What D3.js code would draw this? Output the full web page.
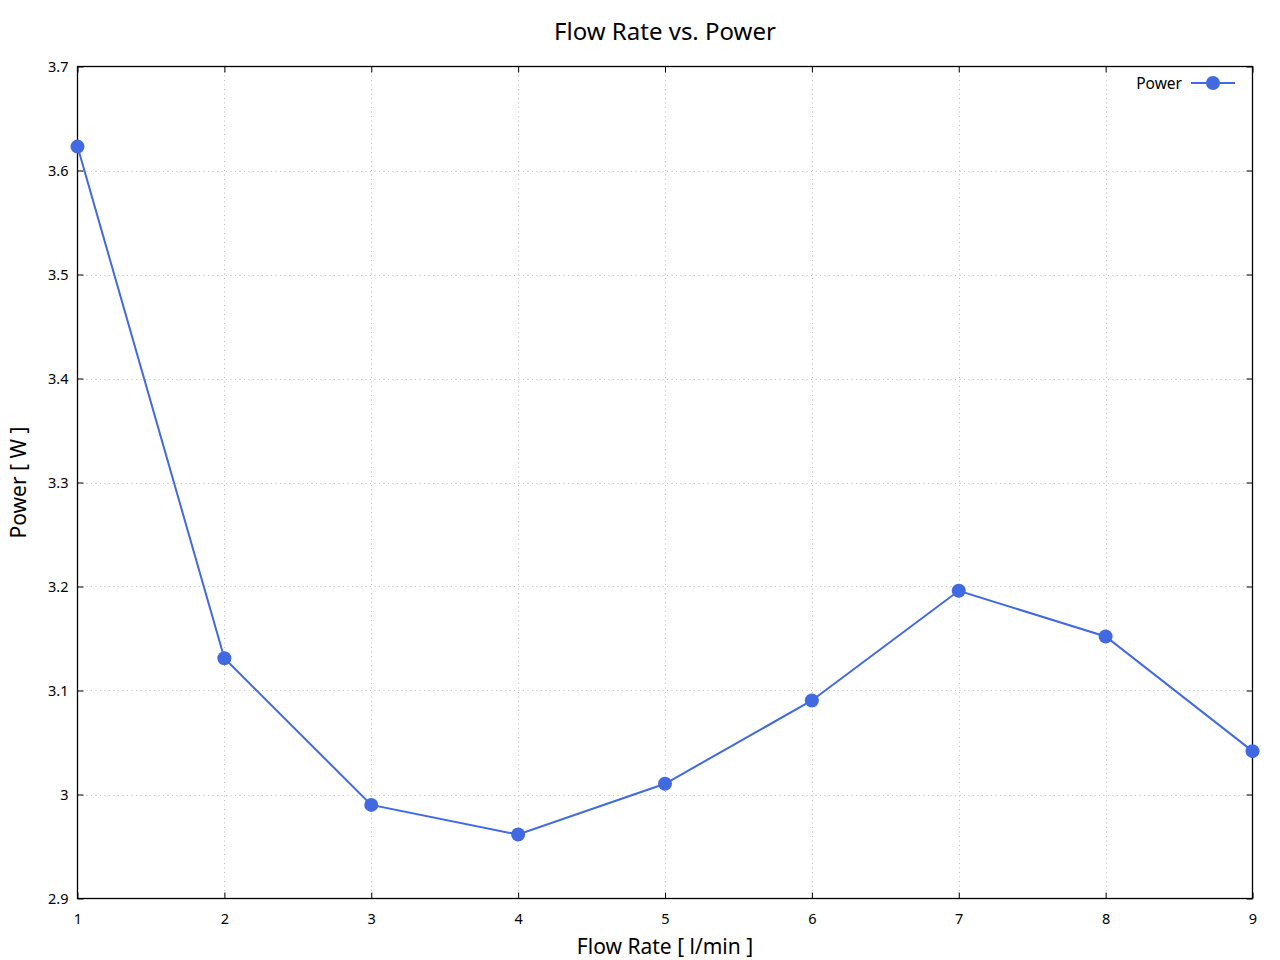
<!DOCTYPE html>
<html>
<head>
<meta charset="utf-8">
<script src="https://cdn.jsdelivr.net/npm/d3@7"></script>
<style>
  html, body { margin: 0; padding: 0; background: #fff; }
  text { font-family: "Noto Sans", "DejaVu Sans", sans-serif; fill: #000; }
</style>
</head>
<body>
<svg id="chart" width="1280" height="960"></svg>
<script>
const flowRates = [1, 2, 3, 4, 5, 6, 7, 8, 9];
const powerValues = [3.623, 3.131, 2.990, 2.9615, 3.0103, 3.0904, 3.1959, 3.1519, 3.0417];
const xTicks = [1, 2, 3, 4, 5, 6, 7, 8, 9];
const yTicks = [2.9, 3.0, 3.1, 3.2, 3.3, 3.4, 3.5, 3.6, 3.7];
const seriesName = "Power";
const titleText = "Flow Rate vs. Power";
const xLabelText = "Flow Rate [ l/min ]";
const yLabelText = "Power [ W ]";

const color = "#4169e1";
const L = 77.5, R = 1252.5, T = 66.5, B = 898.5;

const svg = d3.select("#chart");
const x = d3.scaleLinear().domain([1, 9]).range([L, R]);
const y = d3.scaleLinear().domain([2.9, 3.7]).range([B, T]);

// grid
const grid = svg.append("g");
grid.selectAll(".gx").data(xTicks.slice(1, -1)).enter().append("line")
  .attr("x1", d => Math.round(x(d)) + 0.5).attr("x2", d => Math.round(x(d)) + 0.5)
  .attr("y1", T).attr("y2", B)
  .attr("stroke", "#c0c0c0").attr("stroke-width", 1).attr("stroke-dasharray", "1,3.5");
grid.selectAll(".gy").data(yTicks.slice(1, -1)).enter().append("line")
  .attr("y1", d => Math.round(y(d)) + 0.5).attr("y2", d => Math.round(y(d)) + 0.5)
  .attr("x1", L).attr("x2", R)
  .attr("stroke", "#c0c0c0").attr("stroke-width", 1).attr("stroke-dasharray", "1,3.5");

// axes with inward ticks (mirrored)
const fmt = d => d3.format("~g")(+d.toFixed(2));
const axB = d3.axisBottom(x).tickValues(xTicks).tickSizeInner(-6).tickSizeOuter(0).tickPadding(15).tickFormat(fmt);
const axT = d3.axisTop(x).tickValues(xTicks).tickSizeInner(-6).tickSizeOuter(0).tickFormat("");
const axLft = d3.axisLeft(y).tickValues(yTicks).tickSizeInner(-6).tickSizeOuter(0).tickPadding(9).tickFormat(fmt);
const axRt = d3.axisRight(y).tickValues(yTicks).tickSizeInner(-6).tickSizeOuter(0).tickFormat("");

function styleAxis(g) {
  g.select(".domain").remove();
  g.selectAll(".tick line").attr("stroke", "#000");
  g.selectAll(".tick text").style("font-size", "14.5px").attr("fill", "#000");
}
svg.append("g").attr("transform", `translate(0,${B})`).call(axB).call(styleAxis);
svg.append("g").attr("transform", `translate(0,${T})`).call(axT).call(styleAxis);
svg.append("g").attr("transform", `translate(${L},0)`).call(axLft).call(styleAxis);
svg.append("g").attr("transform", `translate(${R},0)`).call(axRt).call(styleAxis);

// frame
svg.append("rect").attr("x", L).attr("y", T).attr("width", R - L).attr("height", B - T)
  .attr("fill", "none").attr("stroke", "#000").attr("stroke-width", 1.3);

// line
const line = d3.line().x((d, i) => x(flowRates[i])).y(d => y(d));
svg.append("path").datum(powerValues).attr("d", line)
  .attr("fill", "none").attr("stroke", color).attr("stroke-width", 2);
svg.selectAll(".pt").data(powerValues).enter().append("circle")
  .attr("cx", (d, i) => x(flowRates[i])).attr("cy", d => y(d)).attr("r", 7)
  .attr("fill", color);

// legend
const lg = svg.append("g");
lg.append("text").attr("x", 1182).attr("y", 83).attr("text-anchor", "end")
  .attr("dominant-baseline", "central").style("font-size", "15.5px").text(seriesName);
lg.append("line").attr("x1", 1191).attr("x2", 1235).attr("y1", 83).attr("y2", 83)
  .attr("stroke", color).attr("stroke-width", 2);
lg.append("circle").attr("cx", 1213).attr("cy", 83).attr("r", 7).attr("fill", color);

// title and labels
svg.append("text").attr("x", (L + R) / 2).attr("y", 30).attr("text-anchor", "middle")
  .attr("dominant-baseline", "central").style("font-size", "24px").text(titleText);
svg.append("text").attr("x", (L + R) / 2).attr("y", 946).attr("text-anchor", "middle")
  .attr("dominant-baseline", "central").style("font-size", "21px").text(xLabelText);
svg.append("text").attr("transform", `translate(18,${(T + B) / 2}) rotate(-90)`)
  .attr("text-anchor", "middle").attr("dominant-baseline", "central")
  .style("font-size", "21px").text(yLabelText);
</script>
</body>
</html>
